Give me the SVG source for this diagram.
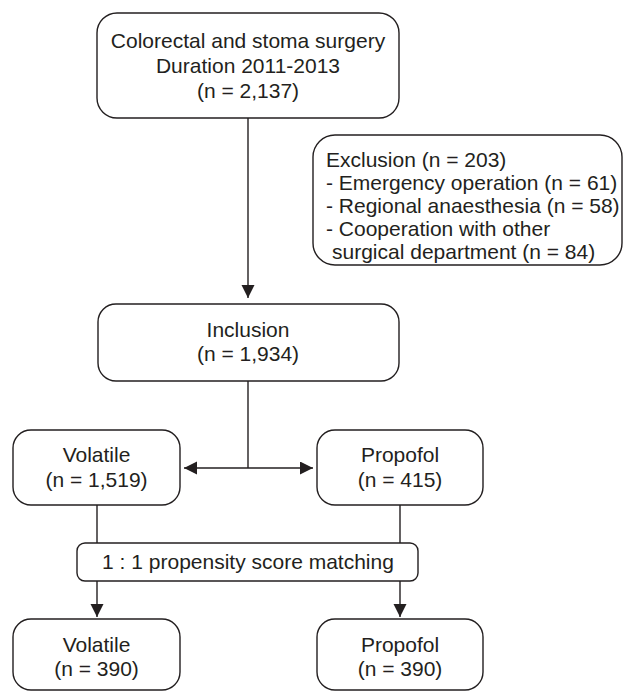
<svg xmlns="http://www.w3.org/2000/svg" width="625" height="692" viewBox="0 0 625 692">
<style>
.box{fill:#fff;stroke:#231f20;stroke-width:1.4}
.t{font-family:"Liberation Sans",Arial,sans-serif;font-size:21px;fill:#231f20}
.c{text-anchor:middle}
.ln{fill:none;stroke:#231f20;stroke-width:1.4}
</style>
<defs>
<marker id="ah" markerUnits="userSpaceOnUse" markerWidth="14" markerHeight="14" refX="13" refY="6.5" orient="auto">
<path d="M0,0 L13,6.5 L0,13 z" fill="#231f20"/>
</marker>
</defs>
<rect width="625" height="692" fill="#fff"/>
<g id="connectors">
<line class="ln" x1="248" y1="118" x2="248" y2="298" marker-end="url(#ah)"/>
<line class="ln" x1="248" y1="381" x2="248" y2="468"/>
<line class="ln" x1="248" y1="468" x2="184" y2="468" marker-end="url(#ah)"/>
<line class="ln" x1="248" y1="468" x2="313" y2="468" marker-end="url(#ah)"/>
<line class="ln" x1="97" y1="505" x2="97" y2="543"/>
<line class="ln" x1="400" y1="505" x2="400" y2="543"/>
<line class="ln" x1="97" y1="581" x2="97" y2="617" marker-end="url(#ah)"/>
<line class="ln" x1="400" y1="581" x2="400" y2="617" marker-end="url(#ah)"/>
</g>
<g id="n-total">
<rect class="box" x="97" y="13" width="302" height="105" rx="20"/>
<text class="t c" x="248" y="48">Colorectal and stoma surgery</text>
<text class="t c" x="248" y="73">Duration 2011-2013</text>
<text class="t c" x="248" y="98">(n = 2,137)</text>
</g>
<g id="n-exclusion">
<rect class="box" x="313" y="135" width="309" height="130" rx="22"/>
<text class="t" x="326" y="167">Exclusion (n = 203)</text>
<text class="t" x="326" y="190">- Emergency operation (n = 61)</text>
<text class="t" x="326" y="213">- Regional anaesthesia (n = 58)</text>
<text class="t" x="326" y="236">- Cooperation with other</text>
<text class="t" x="332" y="259">surgical department (n = 84)</text>
</g>
<g id="n-inclusion">
<rect class="box" x="98" y="304" width="301" height="77" rx="18"/>
<text class="t c" x="248" y="337">Inclusion</text>
<text class="t c" x="248" y="361">(n = 1,934)</text>
</g>
<g id="n-volatile1">
<rect class="box" x="13" y="430" width="167" height="75" rx="18"/>
<text class="t c" x="96.5" y="462">Volatile</text>
<text class="t c" x="96.5" y="487">(n = 1,519)</text>
</g>
<g id="n-propofol1">
<rect class="box" x="317" y="430" width="166" height="75" rx="18"/>
<text class="t c" x="400" y="462">Propofol</text>
<text class="t c" x="400" y="487">(n = 415)</text>
</g>
<g id="n-matching">
<rect class="box" x="77" y="543" width="341" height="38" rx="8"/>
<text class="t c" x="248" y="569">1 : 1 propensity score matching</text>
</g>
<g id="n-volatile2">
<rect class="box" x="13" y="619" width="167" height="71" rx="18"/>
<text class="t c" x="96.5" y="652">Volatile</text>
<text class="t c" x="96.5" y="676">(n = 390)</text>
</g>
<g id="n-propofol2">
<rect class="box" x="317" y="619" width="166" height="71" rx="18"/>
<text class="t c" x="400" y="652">Propofol</text>
<text class="t c" x="400" y="676">(n = 390)</text>
</g>
</svg>
